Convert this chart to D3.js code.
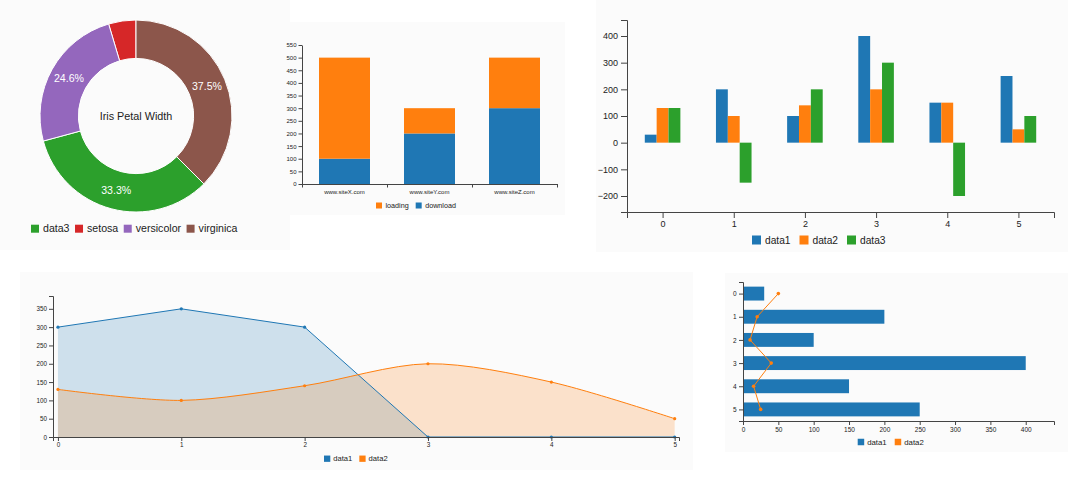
<!DOCTYPE html>
<html><head><meta charset="utf-8">
<script src="https://cdn.jsdelivr.net/npm/d3@7"></script>
<style>
body{margin:0;background:#fff;}
svg{display:block;font-family:"Liberation Sans",Arial,Helvetica,sans-serif;}
.axis path,.axis line{stroke:#444;}
.axis text{fill:#222;}
</style></head>
<body><svg id="c" width="1068" height="496"></svg>
<script>
// ---------- DATA ----------
const pieNames = ["data3","setosa","versicolor","virginica"];
const pieValues = [33.3, 4.6, 24.6, 37.5];
const pieColors = ["#2ca02c","#d62728","#9467bd","#8c564b"];
const pieTitle = "Iris Petal Width";

const sites = ["www.siteX.com","www.siteY.com","www.siteZ.com"];
const download = [100, 200, 300];
const loading = [400, 100, 200];
const stackTicks = [0,50,100,150,200,250,300,350,400,450,500,550];

const idx = [0,1,2,3,4,5];
const data1 = [30, 200, 100, 400, 150, 250];
const data2 = [130, 100, 140, 200, 150, 50];
const data3 = [130, -150, 200, 300, -200, 100];
const groupedTicks = [-200,-100,0,100,200,300,400];

const areaData1 = [300, 350, 300, 0, 0, 0];
const areaData2 = [130, 100, 140, 200, 150, 50];
const areaTicks = [0,50,100,150,200,250,300,350];

const hbarData1 = [30, 200, 100, 400, 150, 250];
const hbarData2 = [50, 20, 10, 40, 15, 25];
const hbarTicks = [0,50,100,150,200,250,300,350,400];

const BLUE="#1f77b4", ORANGE="#ff7f0e", GREEN="#2ca02c";

// ---------- helpers ----------
const svg = d3.select("#c");
function panel(x,y,w,h){ svg.append("rect").attr("x",x).attr("y",y).attr("width",w).attr("height",h).attr("fill","#fbfbfb"); return svg.append("g"); }
function legend(g, names, colors, x0, cy, o){
  let x=x0;
  names.forEach((n,i)=>{
    g.append("rect").attr("x",x).attr("y",cy-o.tile/2).attr("width",o.tile).attr("height",o.tile).attr("fill",colors[i]);
    const t=g.append("text").attr("x",x+o.off).attr("y",cy).attr("dy","0.35em").style("font-size",o.fs+"px").attr("fill","#222").text(n);
    x += o.off + t.node().getComputedTextLength() + o.gap;
  });
}
function styleAxis(sel, fs){ sel.attr("class","axis").selectAll("text").style("font-size",fs+"px").style("font-family","Liberation Sans, Arial, sans-serif"); }

// ---------- Panel 1 : donut ----------
{
  const g = panel(0,0,290,250);
  const cx=136, cy=116, R=96, r=R*0.6;
  const items = pieNames.map((n,i)=>({n, v:pieValues[i], c:pieColors[i]}));
  const pie = d3.pie().value(d=>d.v).sort((a,b)=>b.v-a.v);
  const arcs = pie(items);
  const arc = d3.arc().innerRadius(r).outerRadius(R);
  const total = d3.sum(pieValues);
  const gp = g.append("g").attr("transform",`translate(${cx},${cy})`);
  gp.selectAll("path").data(arcs).join("path").attr("d",arc).attr("fill",d=>d.data.c).attr("stroke","#fff").attr("stroke-width",1);
  gp.selectAll("text.l").data(arcs.filter(d=>d.data.v/total>=0.05)).join("text")
    .attr("transform",d=>`translate(${arc.centroid(d)})`).attr("text-anchor","middle").attr("dy","0.35em")
    .attr("fill","#fff").style("font-size","10.6px").text(d=>(d.data.v/total*100).toFixed(1)+"%");
  gp.append("text").attr("text-anchor","middle").attr("dy","0.35em").style("font-size","10.8px").attr("fill","#222").text(pieTitle);
  legend(g, pieNames, pieColors, 31, 228.7, {fs:10.6, tile:8, off:12, gap:5.5});
}

// ---------- Panel 2 : stacked bars ----------
{
  const g = panel(290,22,275,193);
  const y = d3.scaleLinear().domain([0,550]).range([184,45]);
  const xb = d3.scaleBand().domain(sites).range([302,557]);
  const xl = d3.scaleLinear().domain([0,sites.length]).range([302,557]);
  const rows = sites.map((s,i)=>({s, download:download[i], loading:loading[i]}));
  const st = d3.stack().keys(["download","loading"])(rows);
  const cols = {download:BLUE, loading:ORANGE};
  const bw = xb.bandwidth()*0.6;
  st.forEach(layer=>{
    g.selectAll(null).data(layer).join("rect")
      .attr("x",d=>xb(d.data.s)+xb.bandwidth()*0.2).attr("width",bw)
      .attr("y",d=>y(d[1])).attr("height",d=>y(d[0])-y(d[1])).attr("fill",cols[layer.key]);
  });
  const ya = g.append("g").attr("transform","translate(302,0)").call(d3.axisLeft(y).tickValues(stackTicks).tickSize(3.5).tickSizeOuter(0).tickPadding(2));
  styleAxis(ya,6);
  const xa = g.append("g").attr("transform","translate(0,184)").call(d3.axisBottom(xl).tickValues([0,1,2,3]).tickFormat("").tickSize(3.5).tickSizeOuter(0));
  styleAxis(xa,6);
  const xt = g.append("g").attr("transform","translate(0,184)").call(d3.axisBottom(xb).tickSize(0).tickPadding(6));
  xt.select(".domain").remove();
  styleAxis(xt,6);
  legend(g, ["loading","download"], [ORANGE,BLUE], 376, 205.5, {fs:7.2, tile:6, off:9.5, gap:7});
}

// ---------- Panel 3 : grouped bars ----------
{
  const g = panel(596,0,472,252);
  const x = d3.scaleLinear().domain([-0.5,5.5]).range([627,1054]);
  const y = d3.scaleLinear().domain([-260,460]).range([212,20]);
  const series = [{k:"data1",v:data1,c:BLUE},{k:"data2",v:data2,c:ORANGE},{k:"data3",v:data3,c:GREEN}];
  const gw = (x(1)-x(0))*0.5;
  const inner = d3.scaleBand().domain(series.map(s=>s.k)).range([-gw/2,gw/2]);
  series.forEach(s=>{
    g.selectAll(null).data(idx).join("rect")
      .attr("x",i=>x(i)+inner(s.k)).attr("width",inner.bandwidth())
      .attr("y",i=>y(Math.max(0,s.v[i]))).attr("height",i=>Math.abs(y(s.v[i])-y(0)))
      .attr("fill",s.c);
  });
  const ya = g.append("g").attr("transform","translate(627,0)").call(d3.axisLeft(y).tickValues(groupedTicks).tickSize(6).tickSizeOuter(6).tickPadding(3));
  styleAxis(ya,9);
  const xa = g.append("g").attr("transform","translate(0,212)").call(d3.axisBottom(x).tickValues(idx).tickFormat(d3.format("d")).tickSize(6).tickSizeOuter(6).tickPadding(3));
  styleAxis(xa,9);
  legend(g, ["data1","data2","data3"], [BLUE,ORANGE,GREEN], 752, 240, {fs:10.2, tile:9, off:13, gap:9});
}

// ---------- Panel 4 : areas ----------
{
  const g = panel(20,272,673,198);
  const x = d3.scaleLinear().domain([-0.04,5.035]).range([53,679]);
  const y = d3.scaleLinear().domain([0,385]).range([437,296]);
  const lin = d3.area().x((d,i)=>x(i)).y0(y(0)).y1(d=>y(d));
  const linL = d3.line().x((d,i)=>x(i)).y(d=>y(d));
  const curve = d3.curveCardinal.tension(0.1);
  const spl = d3.area().x((d,i)=>x(i)).y0(y(0)).y1(d=>y(d)).curve(curve);
  const splL = d3.line().x((d,i)=>x(i)).y(d=>y(d)).curve(curve);
  g.append("path").attr("d",lin(areaData1)).attr("fill",BLUE).attr("fill-opacity",0.2);
  g.append("path").attr("d",spl(areaData2)).attr("fill",ORANGE).attr("fill-opacity",0.2);
  g.append("path").attr("d",linL(areaData1)).attr("fill","none").attr("stroke",BLUE).attr("stroke-width",1);
  g.append("path").attr("d",splL(areaData2)).attr("fill","none").attr("stroke",ORANGE).attr("stroke-width",1);
  g.selectAll(null).data(areaData1).join("circle").attr("cx",(d,i)=>x(i)).attr("cy",d=>y(d)).attr("r",1.6).attr("fill",BLUE);
  g.selectAll(null).data(areaData2).join("circle").attr("cx",(d,i)=>x(i)).attr("cy",d=>y(d)).attr("r",1.6).attr("fill",ORANGE);
  const ya = g.append("g").attr("transform","translate(53,0)").call(d3.axisLeft(y).tickValues(areaTicks).tickSize(4).tickSizeOuter(4).tickPadding(2));
  styleAxis(ya,6.3);
  const xa = g.append("g").attr("transform","translate(0,437)").call(d3.axisBottom(x).tickValues(idx).tickFormat(d3.format("d")).tickSize(4).tickSizeOuter(4).tickPadding(2));
  styleAxis(xa,6.3);
  legend(g, ["data1","data2"], [BLUE,ORANGE], 324, 458.7, {fs:7.6, tile:6.3, off:9.3, gap:7});
}

// ---------- Panel 5 : horizontal bars + line ----------
{
  const g = panel(725,273,343,179);
  const x = d3.scaleLinear().domain([0,440]).range([743,1054]);
  const y = d3.scaleLinear().domain([-0.5,5.5]).range([282,421]);
  const bh = (y(1)-y(0))*0.6;
  g.selectAll(null).data(hbarData1).join("rect")
    .attr("x",x(0)).attr("y",(d,i)=>y(i)-bh/2).attr("width",d=>x(d)-x(0)).attr("height",bh).attr("fill",BLUE);
  const line = d3.line().x(d=>x(d)).y((d,i)=>y(i));
  g.append("path").attr("d",line(hbarData2)).attr("fill","none").attr("stroke",ORANGE).attr("stroke-width",1);
  g.selectAll(null).data(hbarData2).join("circle").attr("cx",d=>x(d)).attr("cy",(d,i)=>y(i)).attr("r",1.8).attr("fill",ORANGE);
  const ya = g.append("g").attr("transform","translate(743,0)").call(d3.axisLeft(y).tickValues(idx).tickFormat(d3.format("d")).tickSize(4).tickSizeOuter(4).tickPadding(2.5));
  styleAxis(ya,6.5);
  const xa = g.append("g").attr("transform","translate(0,421)").call(d3.axisBottom(x).tickValues(hbarTicks).tickSize(4).tickSizeOuter(4).tickPadding(2));
  styleAxis(xa,6.5);
  legend(g, ["data1","data2"], [BLUE,ORANGE], 857.7, 442, {fs:7.8, tile:6.5, off:9.5, gap:8});
}
</script></body></html>
